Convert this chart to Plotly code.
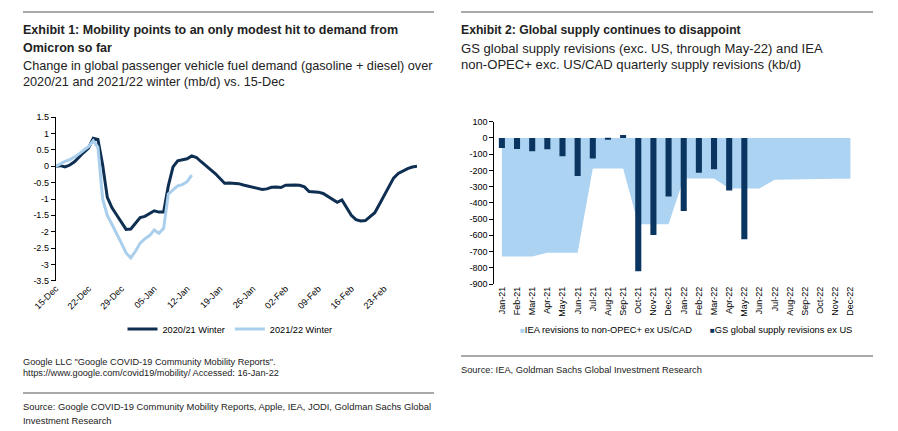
import pandas as pd
import plotly.graph_objects as go

# ---------------- Exhibit 1 data ----------------
start_date = "2020-12-15"
winter_2020_21 = [0.00, 0.02, -0.02, 0.04, 0.14, 0.30, 0.43, 0.56, 0.86, 0.82,
                  0.05, -0.95, -1.27, -1.49, -1.72, -1.93, -1.92, -1.75, -1.57, -1.53,
                  -1.45, -1.36, -1.40, -1.40, -0.60, -0.02, 0.17, 0.21, 0.23, 0.32,
                  0.27, 0.14, 0.03, -0.10, -0.22, -0.38, -0.52, -0.51, -0.52, -0.53,
                  -0.57, -0.60, -0.64, -0.67, -0.71, -0.69, -0.64, -0.63, -0.65, -0.58,
                  -0.57, -0.57, -0.58, -0.63, -0.77, -0.78, -0.79, -0.83, -0.92, -1.02,
                  -1.10, -1.03, -1.28, -1.50, -1.63, -1.67, -1.66, -1.55, -1.42, -1.16,
                  -0.90, -0.62, -0.36, -0.22, -0.14, -0.07, -0.02, 0.00]
winter_2021_22 = [0.00, 0.08, 0.15, 0.20, 0.28, 0.38, 0.50, 0.60, 0.78, 0.58,
                  -1.00, -1.50, -1.78, -2.05, -2.35, -2.65, -2.80, -2.60, -2.35, -2.22,
                  -2.12, -1.95, -2.05, -1.90, -0.85, -0.72, -0.60, -0.56, -0.47, -0.27]
x_tick_labels_1 = ["15-Dec", "22-Dec", "29-Dec", "05-Jan", "12-Jan", "19-Jan",
                   "26-Jan", "02-Feb", "09-Feb", "16-Feb", "23-Feb"]
y_tick_values_1 = [1.5, 1, 0.5, 0, -0.5, -1, -1.5, -2, -2.5, -3, -3.5]
y_tick_labels_1 = ["1.5", "1", "0.5", "0", "-0.5", "-1", "-1.5", "-2", "-2.5", "-3", "-3.5"]

# ---------------- Exhibit 2 data ----------------
months = ["Jan-21", "Feb-21", "Mar-21", "Apr-21", "May-21", "Jun-21", "Jul-21", "Aug-21",
          "Sep-21", "Oct-21", "Nov-21", "Dec-21", "Jan-22", "Feb-22", "Mar-22", "Apr-22",
          "May-22", "Jun-22", "Jul-22", "Aug-22", "Sep-22", "Oct-22", "Nov-22", "Dec-22"]
iea_revisions = [-730, -730, -730, -708, -708, -708, -189, -189, -189, -532, -532, -532,
                 -250, -250, -250, -312, -312, -312, -257, -255, -255, -252, -252, -252]
gs_months = months[:17]
gs_revisions = [-62, -68, -82, -70, -113, -234, -127, -10, 18, -821, -598, -361,
                -450, -214, -193, -324, -624]
y_tick_values_2 = [100, 0, -100, -200, -300, -400, -500, -600, -700, -800, -900]
y_tick_labels_2 = ["100", "0", "-100", "-200", "-300", "-400", "-500", "-600", "-700", "-800", "-900"]

DARK = "#0e2f52"
LIGHT = "#a9cfec"
BAR = "#0a3561"
AREA = "#acd3f1"
SANS = "Liberation Sans, Arial, sans-serif"
TICKFONT = dict(family=SANS, size=9, color="#000")

W, H = 898, 431
def px(x):
    return x / W
def py(y):
    return 1 - y / H

dates_1 = pd.date_range(start_date, periods=len(winter_2020_21), freq="D")
dates_2 = pd.date_range(start_date, periods=len(winter_2021_22), freq="D")
tick_dates = pd.date_range(start_date, periods=len(x_tick_labels_1), freq="7D")
axis_ticks = pd.date_range(start_date, periods=len(x_tick_labels_1) + 1, freq="7D")
x_range_1 = [dates_1[0], dates_1[-1]]

fig = go.Figure()
fig.add_trace(go.Scatter(x=dates_1, y=winter_2020_21, mode="lines", name="2020/21 Winter",
                         line=dict(color=DARK, width=3), xaxis="x", yaxis="y"))
fig.add_trace(go.Scatter(x=dates_2, y=winter_2021_22, mode="lines", name="2021/22 Winter",
                         line=dict(color=LIGHT, width=3), xaxis="x", yaxis="y"))
fig.add_trace(go.Scatter(x=months, y=iea_revisions, mode="lines", fill="tozeroy",
                         fillcolor=AREA, line=dict(width=0, color=AREA),
                         name="IEA revisions to non-OPEC+ ex US/CAD", showlegend=False,
                         xaxis="x2", yaxis="y2"))
fig.add_trace(go.Bar(x=gs_months, y=gs_revisions, marker_color=BAR, marker_line_width=0,
                     name="GS global supply revisions ex US", showlegend=False,
                     xaxis="x2", yaxis="y3"))

ydom1 = [py(280.7), py(117.3)]
ydom2 = [py(284.0), py(121.7)]
xdom1 = [px(55.7), px(417.0)]
xdom2 = [px(494.3), px(858.0)]

fig.update_layout(
    width=W, height=H, margin=dict(l=0, r=0, t=0, b=0, autoexpand=False),
    paper_bgcolor="white", plot_bgcolor="white",
    showlegend=True, bargap=0.6,
    xaxis=dict(domain=xdom1, anchor="y", type="date", range=x_range_1,
               tickvals=tick_dates, ticktext=x_tick_labels_1, tickangle=-45,
               tickfont=TICKFONT, showline=False, ticks="", showgrid=False, zeroline=False),
    yaxis=dict(domain=ydom1, anchor="x", range=[-3.5, 1.5], tickvals=y_tick_values_1,
               ticktext=y_tick_labels_1, tickfont=TICKFONT, showline=True, linecolor="#000",
               linewidth=1, ticks="outside", ticklen=4, tickcolor="#000", showgrid=False,
               zeroline=False),
    xaxis3=dict(overlaying="x", anchor="free", position=py(166.3), type="date",
                range=x_range_1, tickvals=axis_ticks, showticklabels=False,
                showline=True, linecolor="#000", linewidth=1, ticks="outside", ticklen=4,
                tickcolor="#000", showgrid=False, zeroline=False),
    xaxis2=dict(domain=xdom2, anchor="y2", type="category", categoryarray=months,
                range=[-0.5, len(months) - 0.5], tickangle=-90, tickfont=TICKFONT,
                showline=False, ticks="", showgrid=False, zeroline=False),
    yaxis2=dict(domain=ydom2, anchor="x2", range=[-900, 100], tickvals=y_tick_values_2,
                ticktext=y_tick_labels_2, tickfont=TICKFONT, showline=True, linecolor="#000",
                linewidth=1, ticks="outside", ticklen=4, tickcolor="#000", showgrid=False,
                zeroline=False),
    yaxis3=dict(overlaying="y2", anchor="x2", range=[-900, 100], visible=False),
    xaxis4=dict(overlaying="x2", anchor="free", position=py(137.9), type="linear",
                range=[-0.5, len(months) - 0.5],
                tickvals=[i - 0.5 for i in range(len(months) + 1)], showticklabels=False,
                showline=True, linecolor="#000", linewidth=1, ticks="inside", ticklen=4,
                tickcolor="#000", showgrid=False, zeroline=False),
    legend=dict(orientation="h", xref="container", yref="container",
                x=px(230), xanchor="center", y=py(329), yanchor="middle",
                font=dict(family=SANS, size=9.2, color="#000"),
                itemwidth=30, bgcolor="rgba(0,0,0,0)"),
)

def text(x, y, s, size, bold=False, color="#222", family=SANS):
    if bold:
        s = "<b>" + s + "</b>"
    fig.add_annotation(x=px(x), y=py(y), xref="paper", yref="paper", text=s,
                       showarrow=False, xanchor="left", yanchor="middle",
                       font=dict(family=family, size=size, color=color))

def rule(x0, x1, y):
    fig.add_shape(type="line", xref="paper", yref="paper", x0=px(x0), x1=px(x1),
                  y0=py(y), y1=py(y), line=dict(color="#555", width=1))

# Left panel texts
rule(23, 434, 12)
text(21, 30, "Exhibit 1: Mobility points to an only modest hit to demand from", 12.5, True)
text(21, 48, "Omicron so far", 12.5, True)
text(21, 66, "Change in global passenger vehicle fuel demand (gasoline + diesel) over", 12.7)
text(21, 82, "2020/21 and 2021/22 winter (mb/d) vs. 15-Dec", 12.7)
text(21, 362, "Google LLC \"Google COVID-19 Community Mobility Reports\".", 9.2)
text(21, 373, "https://www.google.com/covid19/mobility/ Accessed: 16-Jan-22", 9.2)
rule(23, 434, 393)
text(21, 406, "Source: Google COVID-19 Community Mobility Reports, Apple, IEA, JODI, Goldman Sachs Global", 9.4)
text(21, 420, "Investment Research", 9.4)

# Right panel texts
rule(461, 873, 12)
text(459, 30, "Exhibit 2: Global supply continues to disappoint", 12.2, True)
text(459, 48, "GS global supply revisions (exc. US, through May-22) and IEA", 13.1)
text(459, 64, "non-OPEC+ exc. US/CAD quarterly supply revisions (kb/d)", 13.1)
rule(461, 873, 356)
text(459, 370, "Source: IEA, Goldman Sachs Global Investment Research", 9.3)

# Right legend (text keys)
text(518, 330, f'<span style="color:{AREA};font-size:8px">■</span>IEA revisions to non-OPEC+ ex US/CAD',
     9.3, family=SANS, color="#000")
text(708, 330, f'<span style="color:{BAR};font-size:8px">■</span>GS global supply revisions ex US',
     9.3, family=SANS, color="#000")

fig.write_html("out.html", config={"displayModeBar": False},
               post_script="document.body.style.margin='0';document.body.style.padding='0';")
